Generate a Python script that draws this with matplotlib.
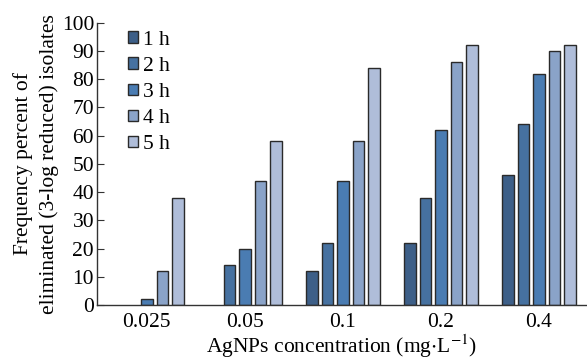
import numpy as np
import matplotlib.pyplot as plt

plt.rcParams['font.family'] = ['Liberation Serif', 'DejaVu Serif']
plt.rcParams['mathtext.fontset'] = 'stix'

# data
concs = ['0.025', '0.05', '0.1', '0.2', '0.4']
hours = ['1 h', '2 h', '3 h', '4 h', '5 h']
h1 = [0, 0, 12, 22, 46]
h2 = [0, 14, 22, 38, 64]
h3 = [2, 20, 44, 62, 82]
h4 = [12, 44, 58, 86, 90]
h5 = [38, 58, 84, 92, 92]
colors = ['#3d5f88', '#4671a0', '#4a7cb2', '#8aa3c8', '#afbdd9']

fs = 15.5
fig = plt.figure(figsize=(5.87, 3.63), dpi=100)
ax = fig.add_axes([0.165, 0.16, 0.835, 0.777])

x = np.arange(len(concs))
step = 0.158
width = 0.117
for i, vals in enumerate([h1, h2, h3, h4, h5]):
    lw = [1.0 if v > 0 else 0 for v in vals]
    ax.bar(x + (i - 2) * step, vals, width, color=colors[i],
           edgecolor='#2a2a2a', linewidth=lw, label=hours[i])

ax.set_xlim(-0.51, 4.49)
ax.set_ylim(0, 100)
ax.set_yticks(range(0, 101, 10))
ax.set_xticks(x)
ax.set_xticklabels(concs)
ax.tick_params(axis='y', direction='in', length=5, labelsize=fs, color='#333333', pad=2)
ax.tick_params(axis='x', length=0, labelsize=fs, pad=6)
for s in ['top', 'right']:
    ax.spines[s].set_visible(False)
for s in ['left', 'bottom']:
    ax.spines[s].set_color('#333333')
    ax.spines[s].set_linewidth(1.0)

ax.set_ylabel('Frequency percent of\neliminated (3-log reduced) isolates', fontsize=fs,
              linespacing=1.45, labelpad=2)
ax.set_xlabel('AgNPs concentration (mg$\\cdot$L$^{-1}$)', fontsize=fs, labelpad=0)

leg = ax.legend(loc='upper left', bbox_to_anchor=(0.042, 1.01), frameon=False, fontsize=fs,
                handlelength=0.45, handleheight=0.45, handletextpad=0.25, labelspacing=0.33,
                borderpad=0)
for p in leg.get_patches():
    p.set_linewidth(1.0)

plt.savefig('out.png', dpi=100)
